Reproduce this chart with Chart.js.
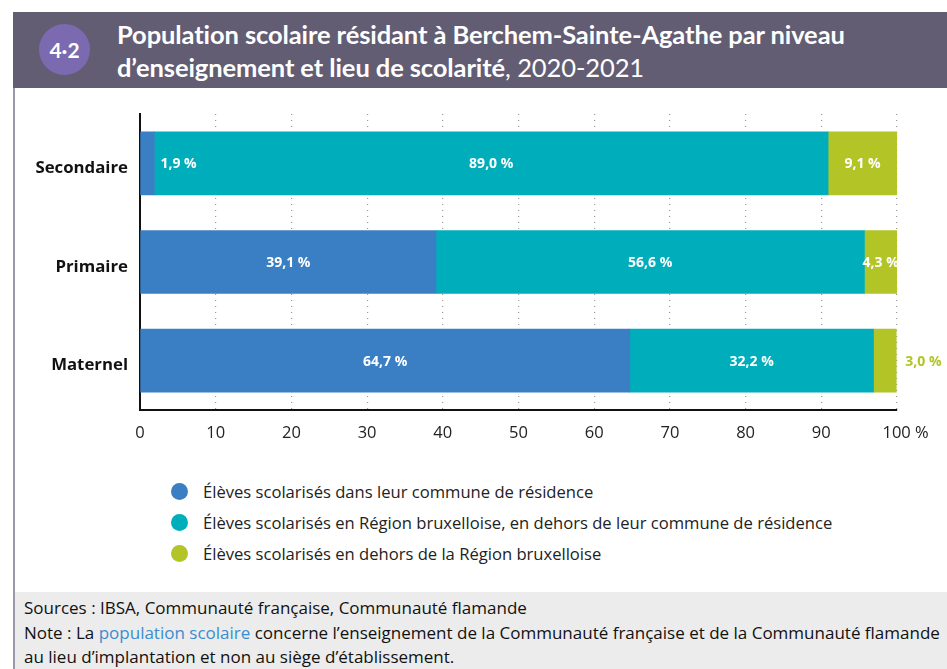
<!DOCTYPE html>
<html>
<head>
<meta charset="utf-8">
<script src="https://cdn.jsdelivr.net/npm/chart.js@4"></script>
<style>
  body { margin: 0; width: 947px; height: 669px; background: #fff; position: relative; overflow: hidden; font-family: "Open Sans", sans-serif; }
  #head { position: absolute; left: 13px; top: 12px; width: 934px; height: 76px; background: #625d73; }
  #badge { position: absolute; left: 26px; top: 12px; width: 51px; height: 51px; border-radius: 50%; background: #7b6aaf; color: #fff; font: bold 21px Lato, sans-serif; text-align: center; line-height: 51px; }
  #title { position: absolute; left: 117px; top: 18px; color: #fff; font: bold 25.5px Lato, sans-serif; line-height: 33px; letter-spacing: -0.1px; }
  #title span { font-weight: normal; }
  #side { position: absolute; left: 13px; top: 88px; width: 2px; height: 581px; background: #9a97a8; }
  #foot { position: absolute; left: 15px; top: 592px; width: 932px; height: 77px; background: #ececec; color: #111; font-size: 17px; line-height: 24.5px; padding: 4px 0 0 9px; box-sizing: border-box; white-space: nowrap; }
  #foot a { color: #3b8cd0; text-decoration: none; }
  #wrap { position: absolute; left: 0; top: 88px; width: 947px; height: 370px; }
  #legend { position: absolute; left: 171px; top: 476px; font-size: 16.6px; color: #222; }
  #legend div { height: 31px; line-height: 26px; display: flex; align-items: center; }
  #legend i { display: inline-block; width: 17px; height: 17px; border-radius: 50%; margin-right: 15px; }
</style>
</head>
<body>
<div id="head">
  <div id="badge">4·2</div>
</div>
<div id="title">Population scolaire résidant à Berchem-Sainte-Agathe par niveau<br>d’enseignement et lieu de scolarité<span>, 2020-2021</span></div>
<div id="side"></div>
<div id="wrap"><canvas id="myChart"></canvas></div>
<div id="legend"></div>
<div id="foot">
  Sources : IBSA, Communauté française, Communauté flamande<br>
  Note : La <a>population scolaire</a> concerne l’enseignement de la Communauté française et de la Communauté flamande<br>
  au lieu d’implantation et non au siège d’établissement.
</div>
<script>
const categories = ["Secondaire", "Primaire", "Maternel"];
const seriesNames = [
  "Élèves scolarisés dans leur commune de résidence",
  "Élèves scolarisés en Région bruxelloise, en dehors de leur commune de résidence",
  "Élèves scolarisés en dehors de la Région bruxelloise",
];
const commune = [1.9, 39.1, 64.7];
const region = [89.0, 56.6, 32.2];
const dehors = [9.1, 4.3, 3.0];
const xTicks = [0, 10, 20, 30, 40, 50, 60, 70, 80, 90, 100];
const colors = ["#3a7fc3", "#00adbb", "#b2c426"];

const fmt = (v) => v.toFixed(1).replace(".", ",") + " %";

const barLabels = {
  id: "barLabels",
  afterDatasetsDraw(chart) {
    const ctx = chart.ctx;
    ctx.save();
    ctx.font = "bold 14px 'Open Sans', sans-serif";
    ctx.textBaseline = "middle";
    const n = chart.data.datasets.length;
    chart.data.datasets.forEach((ds, di) => {
      chart.getDatasetMeta(di).data.forEach((bar, i) => {
        const p = bar.getProps(["x", "y", "base"], true);
        const w = p.x - p.base;
        const txt = fmt(ds.data[i]);
        const y = p.y + 1;
        if (w < 28) {
          ctx.textAlign = "left";
          if (di === n - 1) {
            ctx.fillStyle = ds.backgroundColor;
            ctx.fillText(txt, p.x + 9, y);
          } else {
            ctx.fillStyle = "#fff";
            ctx.fillText(txt, p.x + 6, y);
          }
        } else {
          ctx.fillStyle = "#fff";
          ctx.textAlign = "center";
          ctx.fillText(txt, (p.x + p.base) / 2, y);
        }
      });
    });
    ctx.restore();
  },
};

const datasets = [commune, region, dehors].map((d, k) => ({
  label: seriesNames[k],
  data: d,
  backgroundColor: colors[k],
  barThickness: 63,
}));

const chart = new Chart(document.getElementById("myChart"), {
  type: "bar",
  plugins: [barLabels],
  data: { labels: categories, datasets: datasets },
  options: {
    indexAxis: "y",
    responsive: true,
    maintainAspectRatio: false,
    animation: false,
    layout: { padding: { top: 26, right: 50, left: 0, bottom: 0 } },
    plugins: {
      legend: { display: false },
      tooltip: { enabled: false },
    },
    scales: {
      x: {
        stacked: true,
        min: 0,
        max: 100,
        afterBuildTicks: (s) => { s.ticks = xTicks.map((v) => ({ value: v })); },
        ticks: {
          color: "#222",
          font: { size: 16.5, family: "'Open Sans', sans-serif" },
          padding: 13,
          maxRotation: 0,
          callback: (v) => (v === 100 ? "    100 %" : v),
        },
        grid: {
          color: (c) => (c.tick && c.tick.value === 0 ? "rgba(0,0,0,0)" : "#9a9a9a"),
          lineWidth: 1.2,
          drawTicks: false,
        },
        border: { display: true, color: "#111", width: 2 },
        afterFit: (s) => { s.height = 48; },
      },
      y: {
        stacked: true,
        ticks: {
          color: "#111",
          font: { size: 16.8, weight: "bold", family: "'Open Sans', sans-serif" },
          padding: 12,
          labelOffset: 5,
        },
        grid: { display: false, drawTicks: false },
        border: { display: true, color: "#111", width: 2 },
        afterFit: (s) => { s.width = 140; },
      },
    },
  },
});
chart.options.scales.x.grid.borderDash = [1, 5];
chart.options.scales.x.border.dash = [1, 5];
chart.update();

// HTML legend from the datasets
const legend = document.getElementById("legend");
chart.data.datasets.forEach((ds) => {
  const row = document.createElement("div");
  row.innerHTML = '<i style="background:' + ds.backgroundColor + '"></i>' + ds.label;
  legend.appendChild(row);
});
</script>
</body>
</html>
